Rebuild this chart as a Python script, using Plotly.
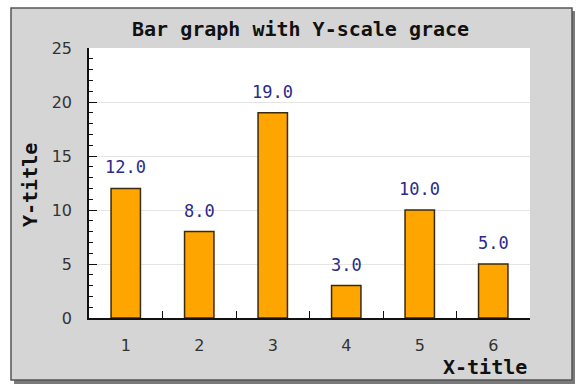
import plotly.graph_objects as go

# data
categories = ["1", "2", "3", "4", "5", "6"]
values = [12, 8, 19, 3, 10, 5]
y_ticks = [0, 5, 10, 15, 20, 25]

# plot area in pixels (left, right, top, bottom)
L, R, T, B = 89, 530, 48, 318
W, H = 576, 387


def px(x):
    return (x - L) / (R - L)


def py(y):
    return (B - y) / (B - T)


fig = go.Figure()
fig.add_trace(go.Bar(
    x=categories, y=values, width=0.4,
    marker=dict(color="#ffa500", line=dict(color="#3a2a10", width=1.5)),
    hoverinfo="skip",
))

# value labels above each bar (category index as x position)
for i, v in enumerate(values):
    fig.add_annotation(x=i, y=v, text=f"{v:.1f}", showarrow=False,
                       yanchor="bottom", yshift=9,
                       font=dict(family="DejaVu Sans Mono", size=17, color="#2b2b8c"))

mono = dict(family="DejaVu Sans Mono", size=20, color="#111111", weight="bold")

fig.add_annotation(xref="paper", yref="paper", x=px(300), y=py(29), text="Bar graph with Y-scale grace",
                   showarrow=False, xanchor="center", yanchor="middle", font=mono)
fig.add_annotation(xref="paper", yref="paper", x=px(30), y=py(185), text="Y-title", textangle=-90,
                   showarrow=False, xanchor="center", yanchor="middle", font=mono)
fig.add_annotation(xref="paper", yref="paper", x=px(529), y=py(367), text="X-title",
                   showarrow=False, xanchor="right", yanchor="middle", font=mono)

# gray frame with shadow, then the white plot area on top of it
fig.add_shape(type="rect", xref="paper", yref="paper", layer="below",
              x0=px(14), x1=px(575), y0=py(11), y1=py(384),
              fillcolor="#7a7a7a", line=dict(width=0))
fig.add_shape(type="rect", xref="paper", yref="paper", layer="below",
              x0=px(11), x1=px(572), y0=py(8), y1=py(380),
              fillcolor="#d5d5d5", line=dict(color="#555555", width=1.5))
fig.add_shape(type="rect", xref="paper", yref="paper", layer="below",
              x0=0, x1=1, y0=0, y1=1,
              fillcolor="white", line=dict(width=0))

fig.update_layout(
    width=W, height=H,
    margin=dict(l=L, r=W - R, t=T, b=H - B),
    paper_bgcolor="white", plot_bgcolor="white",
    showlegend=False,
)
fig.update_xaxes(
    type="category", tickson="boundaries", ticks="inside", ticklen=7, tickcolor="#111",
    showline=True, linecolor="#111", linewidth=1.5, showgrid=False,
    tickfont=dict(family="DejaVu Sans", size=16, color="#333"), ticklabelstandoff=12,
    range=[-0.5, 5.5], fixedrange=True,
)
fig.update_yaxes(
    range=[0, 25], tickvals=y_ticks, ticks="inside", ticklen=8, tickcolor="#111",
    showline=True, linecolor="#111", linewidth=1.5,
    showgrid=True, gridcolor="#e4e4e4", gridwidth=1, zeroline=False,
    minor=dict(ticks="inside", dtick=1, ticklen=4, tickcolor="#111", showgrid=False),
    tickfont=dict(family="DejaVu Sans", size=16, color="#333"), ticklabelstandoff=12,
    fixedrange=True,
)

# drop the default 8px page margin so the figure sits at the window corner
fig.write_html("out.html", config={"displayModeBar": False},
               post_script="document.body.style.margin='0';")
